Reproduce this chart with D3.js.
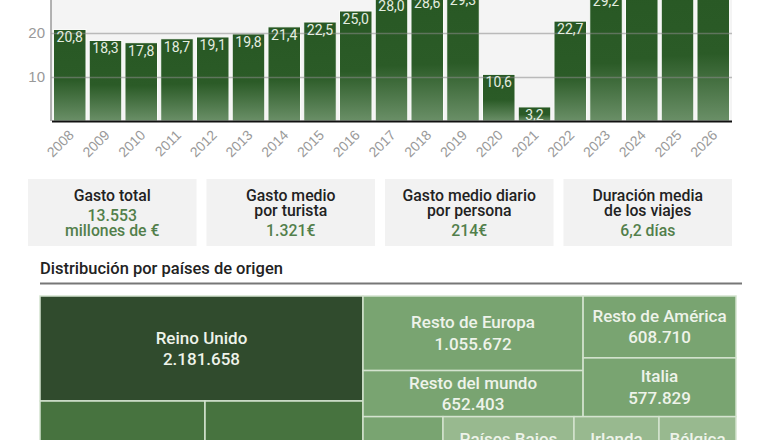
<!DOCTYPE html>
<html>
<head>
<meta charset="utf-8">
<script src="https://cdn.jsdelivr.net/npm/d3@7"></script>
<style>
  body { margin: 0; background: #fff; }
  svg { display: block; font-family: Roboto, "Noto Sans", sans-serif; }
</style>
</head>
<body>
<svg id="chart"></svg>
<script>
const W = 780, H = 440;

// bar chart data (millones de turistas); 2024-2026 are cut off at the top, estimated
const years = ['2008', '2009', '2010', '2011', '2012', '2013', '2014', '2015', '2016', '2017',
    '2018', '2019', '2020', '2021', '2022', '2023', '2024', '2025', '2026'];
const turistas = [20.8, 18.3, 17.8, 18.7, 19.1, 19.8, 21.4, 22.5, 25.0, 28.0,
    28.6, 29.3, 10.6, 3.2, 22.7, 29.2, 31.6, 32.9, 34.0];
const yTicks = [10, 20, 30];

// stat boxes
const statTitles = [['Gasto total'], ['Gasto medio', 'por turista'], ['Gasto medio diario', 'por persona'], ['Duración media', 'de los viajes']];
const statValues = [['13.553', 'millones de €'], ['1.321€'], ['214€'], ['6,2 días']];

// treemap: countries of origin (cells below the picture edge are estimated from their areas)
const sectionTitle = 'Distribución por países de origen';
const paises = ['Reino Unido', 'Alemania', 'Francia', 'Resto de Europa', 'Resto del mundo',
    'Resto de América', 'Italia', 'Países Nórdicos', 'Países Bajos', 'Irlanda', 'Bélgica',
    'Suiza', 'Portugal'];
const visitantes = [2181658, 1220600, 1168800, 1055672, 652403, 608710, 577829, 511300,
    558200, 362200, 328100, 330000, 294300];
const grupo = [0, 1, 1, 2, 2, 2, 2, 2, 3, 3, 3, 3, 3];
const grupoColors = ['#304b2d', '#47733f', '#79a471', '#98b98f'];
// nesting of the cells (indexes into paises)
const bloques = [[[0], [1, 2]], [[[3, 4], [5, 6]], [7, [[8, 9, 10], [11, 12]]]]];

const es = d3.formatLocale({decimal: ',', thousands: '.', grouping: [3], currency: ['', '€']});

const svg = d3.select('#chart')
    .attr('width', W)
    .attr('height', H);

// ---- bar chart ----
const x = d3.scaleBand()
    .domain(years)
    .range([51.5, 731.5])
    .paddingInner(0.09)
    .paddingOuter(0.055);

const y = d3.scaleLinear()
    .domain([0, 40])
    .range([121, -55]);

const defs = svg.append('defs');
const grad = defs.append('linearGradient')
    .attr('id', 'barGrad')
    .attr('x1', 0).attr('y1', 0).attr('x2', 0).attr('y2', 1);
grad.append('stop').attr('offset', '0%').attr('stop-color', '#285824');
grad.append('stop').attr('offset', '55%').attr('stop-color', '#2b5b27');
grad.append('stop').attr('offset', '100%').attr('stop-color', '#6a8f67');

// plot background
svg.append('rect')
    .attr('x', 51)
    .attr('y', y(40))
    .attr('width', 681)
    .attr('height', y(0) - y(40))
    .attr('fill', '#f4f4f4');

svg.selectAll('.bar')
    .data(turistas)
    .enter()
    .append('rect')
    .attr('class', 'bar')
    .attr('x', (d, i) => x(years[i]))
    .attr('y', d => y(d))
    .attr('width', x.bandwidth())
    .attr('height', d => y(0) - y(d))
    .attr('fill', 'url(#barGrad)')
    .attr('stroke', '#fbfcfa')
    .attr('stroke-width', 1);

// grid lines + y labels (drawn over the bars)
const yAxis = svg.append('g')
    .attr('transform', 'translate(51,0)')
    .call(d3.axisLeft(y).tickValues(yTicks).tickSize(-681).tickPadding(6).tickFormat(d3.format('d')));
yAxis.select('.domain').remove();
yAxis.selectAll('line').attr('stroke', '#8a8a8a').attr('stroke-opacity', 0.55).attr('stroke-width', 1.3);
yAxis.selectAll('text').attr('fill', '#999').attr('font-size', '15px');

svg.append('line')
    .attr('x1', 51).attr('x2', 51)
    .attr('y1', y(40)).attr('y2', y(0))
    .attr('stroke', '#9a9a9a')
    .attr('stroke-width', 1.5);

svg.selectAll('.val')
    .data(turistas)
    .enter()
    .append('text')
    .attr('class', 'val')
    .attr('x', (d, i) => x(years[i]) + x.bandwidth() / 2)
    .attr('y', d => y(d) + 13)
    .attr('text-anchor', 'middle')
    .attr('font-size', '14px')
    .attr('fill', '#e4ede0')
    .text(d => es.format(',.1f')(d));

const xAxis = svg.append('g')
    .attr('transform', `translate(0,${y(0)})`)
    .call(d3.axisBottom(x).tickSize(0).tickSizeOuter(0));
xAxis.select('.domain').attr('stroke', '#111').attr('stroke-width', 2);
xAxis.selectAll('text')
    .attr('y', 0)
    .attr('dy', 0)
    .attr('transform', 'translate(5,15) rotate(-45)')
    .style('text-anchor', 'end')
    .attr('font-size', '14px')
    .attr('fill', '#999');

// ---- stat boxes ----
const bx = d3.scaleBand()
    .domain(d3.range(statTitles.length))
    .range([28, 732])
    .paddingInner(0.056);

statTitles.forEach((title, i) => {
    const g = svg.append('g');
    g.append('rect')
        .attr('x', bx(i))
        .attr('y', 179)
        .attr('width', bx.bandwidth())
        .attr('height', 67)
        .attr('fill', '#f2f2f2');
    const cx = bx(i) + bx.bandwidth() / 2;
    let ty = 201;
    title.forEach((t, j) => {
        g.append('text')
            .attr('x', cx).attr('y', ty)
            .attr('text-anchor', 'middle')
            .attr('font-size', '15.8px')
            .attr('font-weight', 500)
            .attr('fill', '#222')
            .text(t);
        if (j < title.length - 1) ty += 15.3;
    });
    ty += 20;
    statValues[i].forEach(t => {
        g.append('text')
            .attr('x', cx).attr('y', ty)
            .attr('text-anchor', 'middle')
            .attr('font-size', '15.8px')
            .attr('font-weight', 500)
            .attr('fill', '#527f4b')
            .text(t);
        ty += 15.3;
    });
});

// ---- treemap ----
svg.append('text')
    .attr('x', 40)
    .attr('y', 274)
    .attr('font-size', '16.5px')
    .attr('font-weight', 500)
    .attr('fill', '#222')
    .text(sectionTitle);

svg.append('line')
    .attr('x1', 40).attr('x2', 742)
    .attr('y1', 283.5).attr('y2', 283.5)
    .attr('stroke', '#777')
    .attr('stroke-width', 2);

function toNode(b) {
    if (typeof b === 'number') {
        return {name: paises[b], value: visitantes[b], grupo: grupo[b]};
    }
    if (b.length === 1 && typeof b[0] === 'number') return toNode(b[0]);
    return {children: b.map(toNode)};
}

const root = d3.hierarchy(toNode(bloques))
    .sum(d => d.value || 0);

d3.treemap()
    .tile(d3.treemapSliceDice)
    .size([696, 220])
    .round(false)(root);

const tx = 40, ty0 = 296;

const cells = svg.selectAll('.cell')
    .data(root.leaves())
    .enter()
    .append('g')
    .attr('class', 'cell')
    .attr('transform', d => `translate(${tx + d.x0},${ty0 + d.y0})`);

cells.append('rect')
    .attr('width', d => d.x1 - d.x0)
    .attr('height', d => d.y1 - d.y0)
    .attr('fill', d => grupoColors[d.data.grupo])
    .attr('stroke', '#d4e3cf')
    .attr('stroke-width', 1.5);

cells.each(function(d) {
    const g = d3.select(this);
    const w = d.x1 - d.x0, h = d.y1 - d.y0;
    const name = g.append('text')
        .attr('x', w / 2)
        .attr('y', h / 2 - 5)
        .attr('text-anchor', 'middle')
        .attr('font-size', '17px')
        .attr('font-weight', 500)
        .attr('fill', '#eef3ea')
        .text(d.data.name);
    // hide labels that do not fit in the cell
    if (name.node().getComputedTextLength() > w - 8) {
        name.remove();
        return;
    }
    g.append('text')
        .attr('x', w / 2)
        .attr('y', h / 2 + 16.5)
        .attr('text-anchor', 'middle')
        .attr('font-size', '17px')
        .attr('font-weight', 500)
        .attr('fill', '#eef3ea')
        .text(es.format(',')(d.data.value));
});
</script>
</body>
</html>
